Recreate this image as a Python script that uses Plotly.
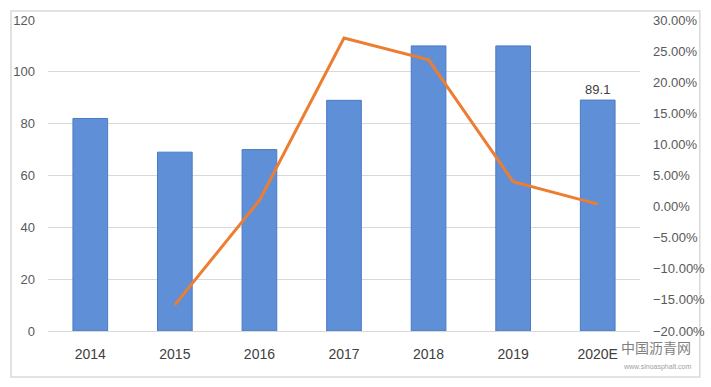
import plotly.graph_objects as go

years = ["2014", "2015", "2016", "2017", "2018", "2019", "2020E"]
year_labels = ["2014", "2015", "2016", "2017", "2018", "2019", "2020E"]
volume = [82, 69, 70, 89, 110, 110, 89.1]
growth_years = ["2015", "2016", "2017", "2018", "2019", "2020E"]
growth = [-0.158, 0.010, 0.271, 0.236, 0.040, 0.004]
bar_labels = ["", "", "", "", "", "", "89.1"]

fig = go.Figure()
fig.add_trace(go.Bar(
    x=years, y=volume, width=0.41,
    marker=dict(color="#5F8FD6", line=dict(color="#4A7BC8", width=1)),
    text=bar_labels, textposition="outside",
    textfont=dict(color="#404040", size=13, family="Liberation Sans, Arial"),
    cliponaxis=False, showlegend=False,
))
fig.add_trace(go.Scatter(
    x=growth_years, y=growth, yaxis="y2", mode="lines",
    line=dict(color="#ED7D31", width=3), showlegend=False,
))

fig.update_layout(
    width=711, height=387,
    margin=dict(l=48, r=71, t=20, b=56, autoexpand=False),
    paper_bgcolor="white", plot_bgcolor="white",
    font=dict(family="Liberation Sans, Arial", color="#595959", size=13),
    xaxis=dict(
        type="category", categoryorder="array", categoryarray=years,
        tickvals=years, ticktext=year_labels,
        showline=True, linecolor="#D9D9D9", linewidth=1,
        ticks="", tickfont=dict(size=14, color="#404040"),
        range=[-0.5, 6.5], automargin=False, ticklabelstandoff=10,
    ),
    yaxis=dict(
        range=[0, 120], dtick=20, showgrid=True, gridcolor="#D9D9D9",
        zeroline=False, ticks="", tickfont=dict(size=13, color="#595959"),
        ticklabelstandoff=12, automargin=False,
    ),
    yaxis2=dict(
        overlaying="y", side="right", range=[-0.2, 0.3], dtick=0.05,
        tickformat=".2%", showgrid=False, zeroline=False, ticks="",
        tickfont=dict(size=13, color="#595959"), automargin=False,
        ticklabelstandoff=12,
    ),
    bargap=0.59,
)

fig.add_shape(type="rect", xref="paper", yref="paper",
              x0=-0.0625, x1=1.101, y0=-0.148, y1=1.029,
              line=dict(color="#D9D9D9", width=1.5), layer="below")

fig.add_annotation(xref="paper", yref="paper", x=1.09, y=-0.09,
                   text="中国沥青网", showarrow=False, xanchor="right",
                   font=dict(family="Noto Sans CJK SC", size=14, color="#7F7F7F"))
fig.add_annotation(xref="paper", yref="paper", x=1.09, y=-0.135,
                   text="www.sinoasphalt.com", showarrow=False, xanchor="right",
                   font=dict(size=7, color="#A0A0A0"))

fig.write_html("out.html", config={"displayModeBar": False},
               post_script="document.body.style.margin='0';document.body.style.overflow='hidden';")
